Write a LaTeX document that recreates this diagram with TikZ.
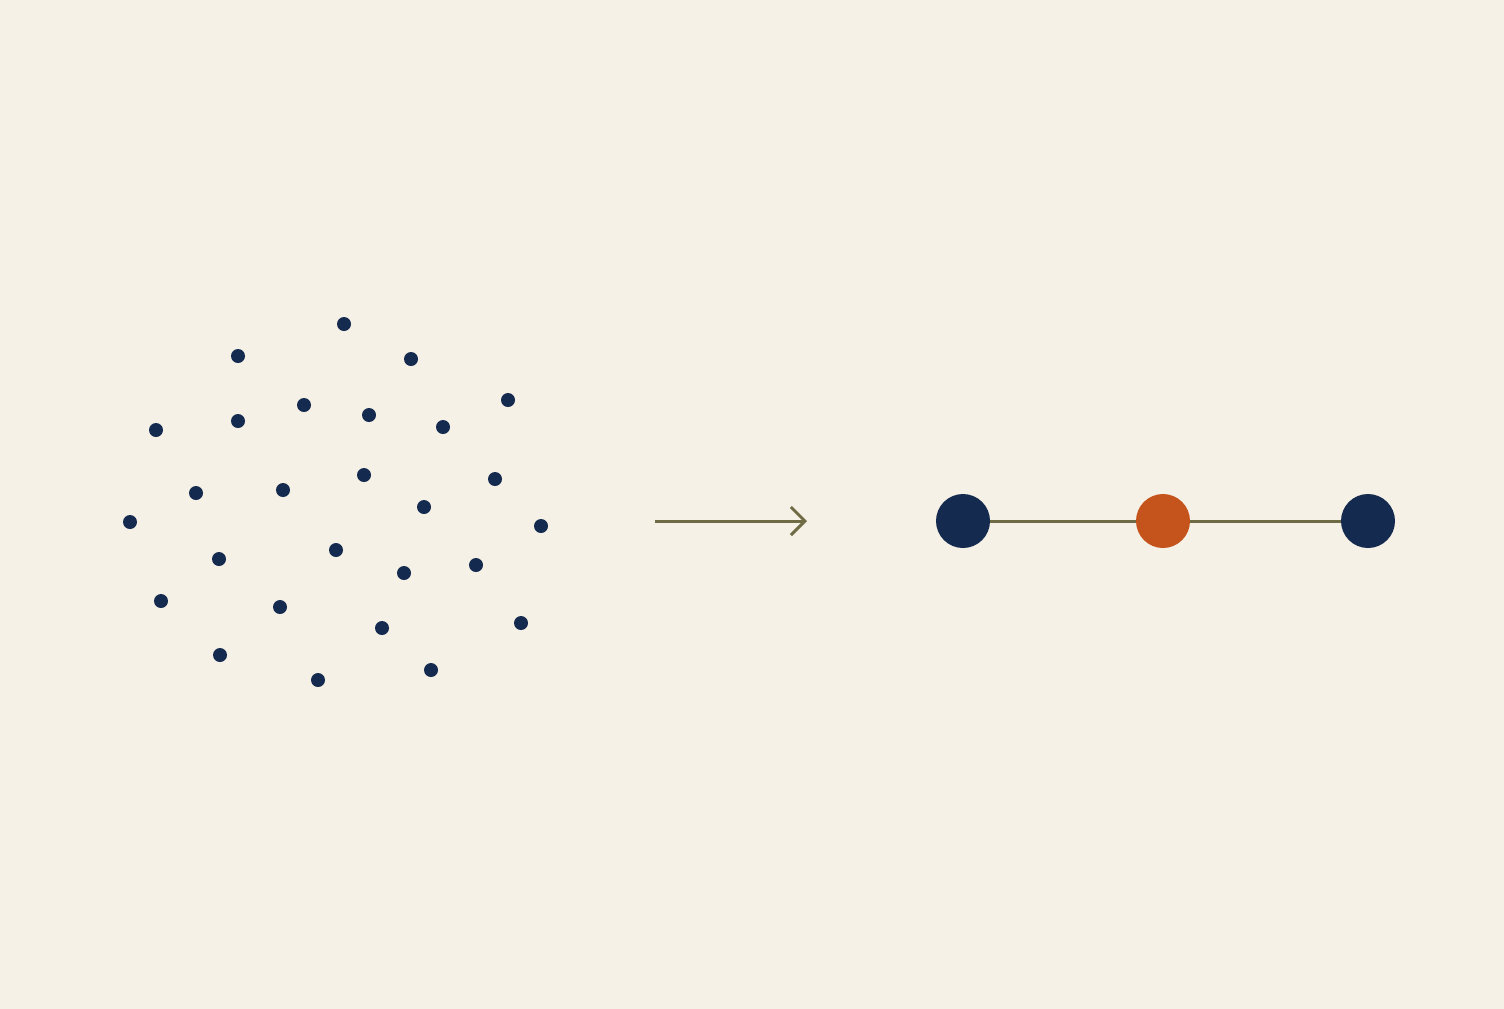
\documentclass[tikz,border=0pt]{standalone}
\usepackage{tikz}
\usetikzlibrary{arrows.meta}
\definecolor{paper}{HTML}{F6F1E7}
\definecolor{navy}{HTML}{142A4E}
\definecolor{rust}{HTML}{C4531C}
\definecolor{olive}{HTML}{6E6B45}
\tikzset{
  pt/.style={circle, fill=navy, inner sep=0pt, minimum size=7pt},
  big/.style={circle, fill=#1, inner sep=0pt, minimum size=27pt},
  link/.style={draw=olive, line width=1.5pt}
}
\begin{document}
\begin{tikzpicture}[x=0.5pt, y=-0.5pt]
\useasboundingbox (0,0) rectangle (1504,1008);
\fill[paper] (-6,-6) rectangle (1510,1014);
% scattered points
\foreach \x/\y [count=\i] in {344/324, 238/356, 411/359, 508/400, 156/430,
    238/421, 304/405, 369/415, 443/427, 196/493, 283/490, 364/475, 495/479,
    424/507, 130/522, 541/526, 219/559, 336/550, 404/573, 476/565, 161/601,
    280/607, 382/628, 521/623, 220/655, 318/680, 431/670}
  \node [pt] (d\i) at (\x,\y) {};
% arrow
\coordinate (from) at (655,521);
\coordinate (to) at (807,521);
\draw [link, -{Straight Barb[length=7pt, width=14pt, line width=1.5pt]}] (from) -- (to);
% result
\node [big=navy] (left) at (963,521) {};
\node [big=rust] (mid) at (1163,521) {};
\node [big=navy] (right) at (1368,521) {};
\draw [link] (left) -- (mid);
\draw [link] (mid) -- (right);
\end{tikzpicture}
\end{document}
